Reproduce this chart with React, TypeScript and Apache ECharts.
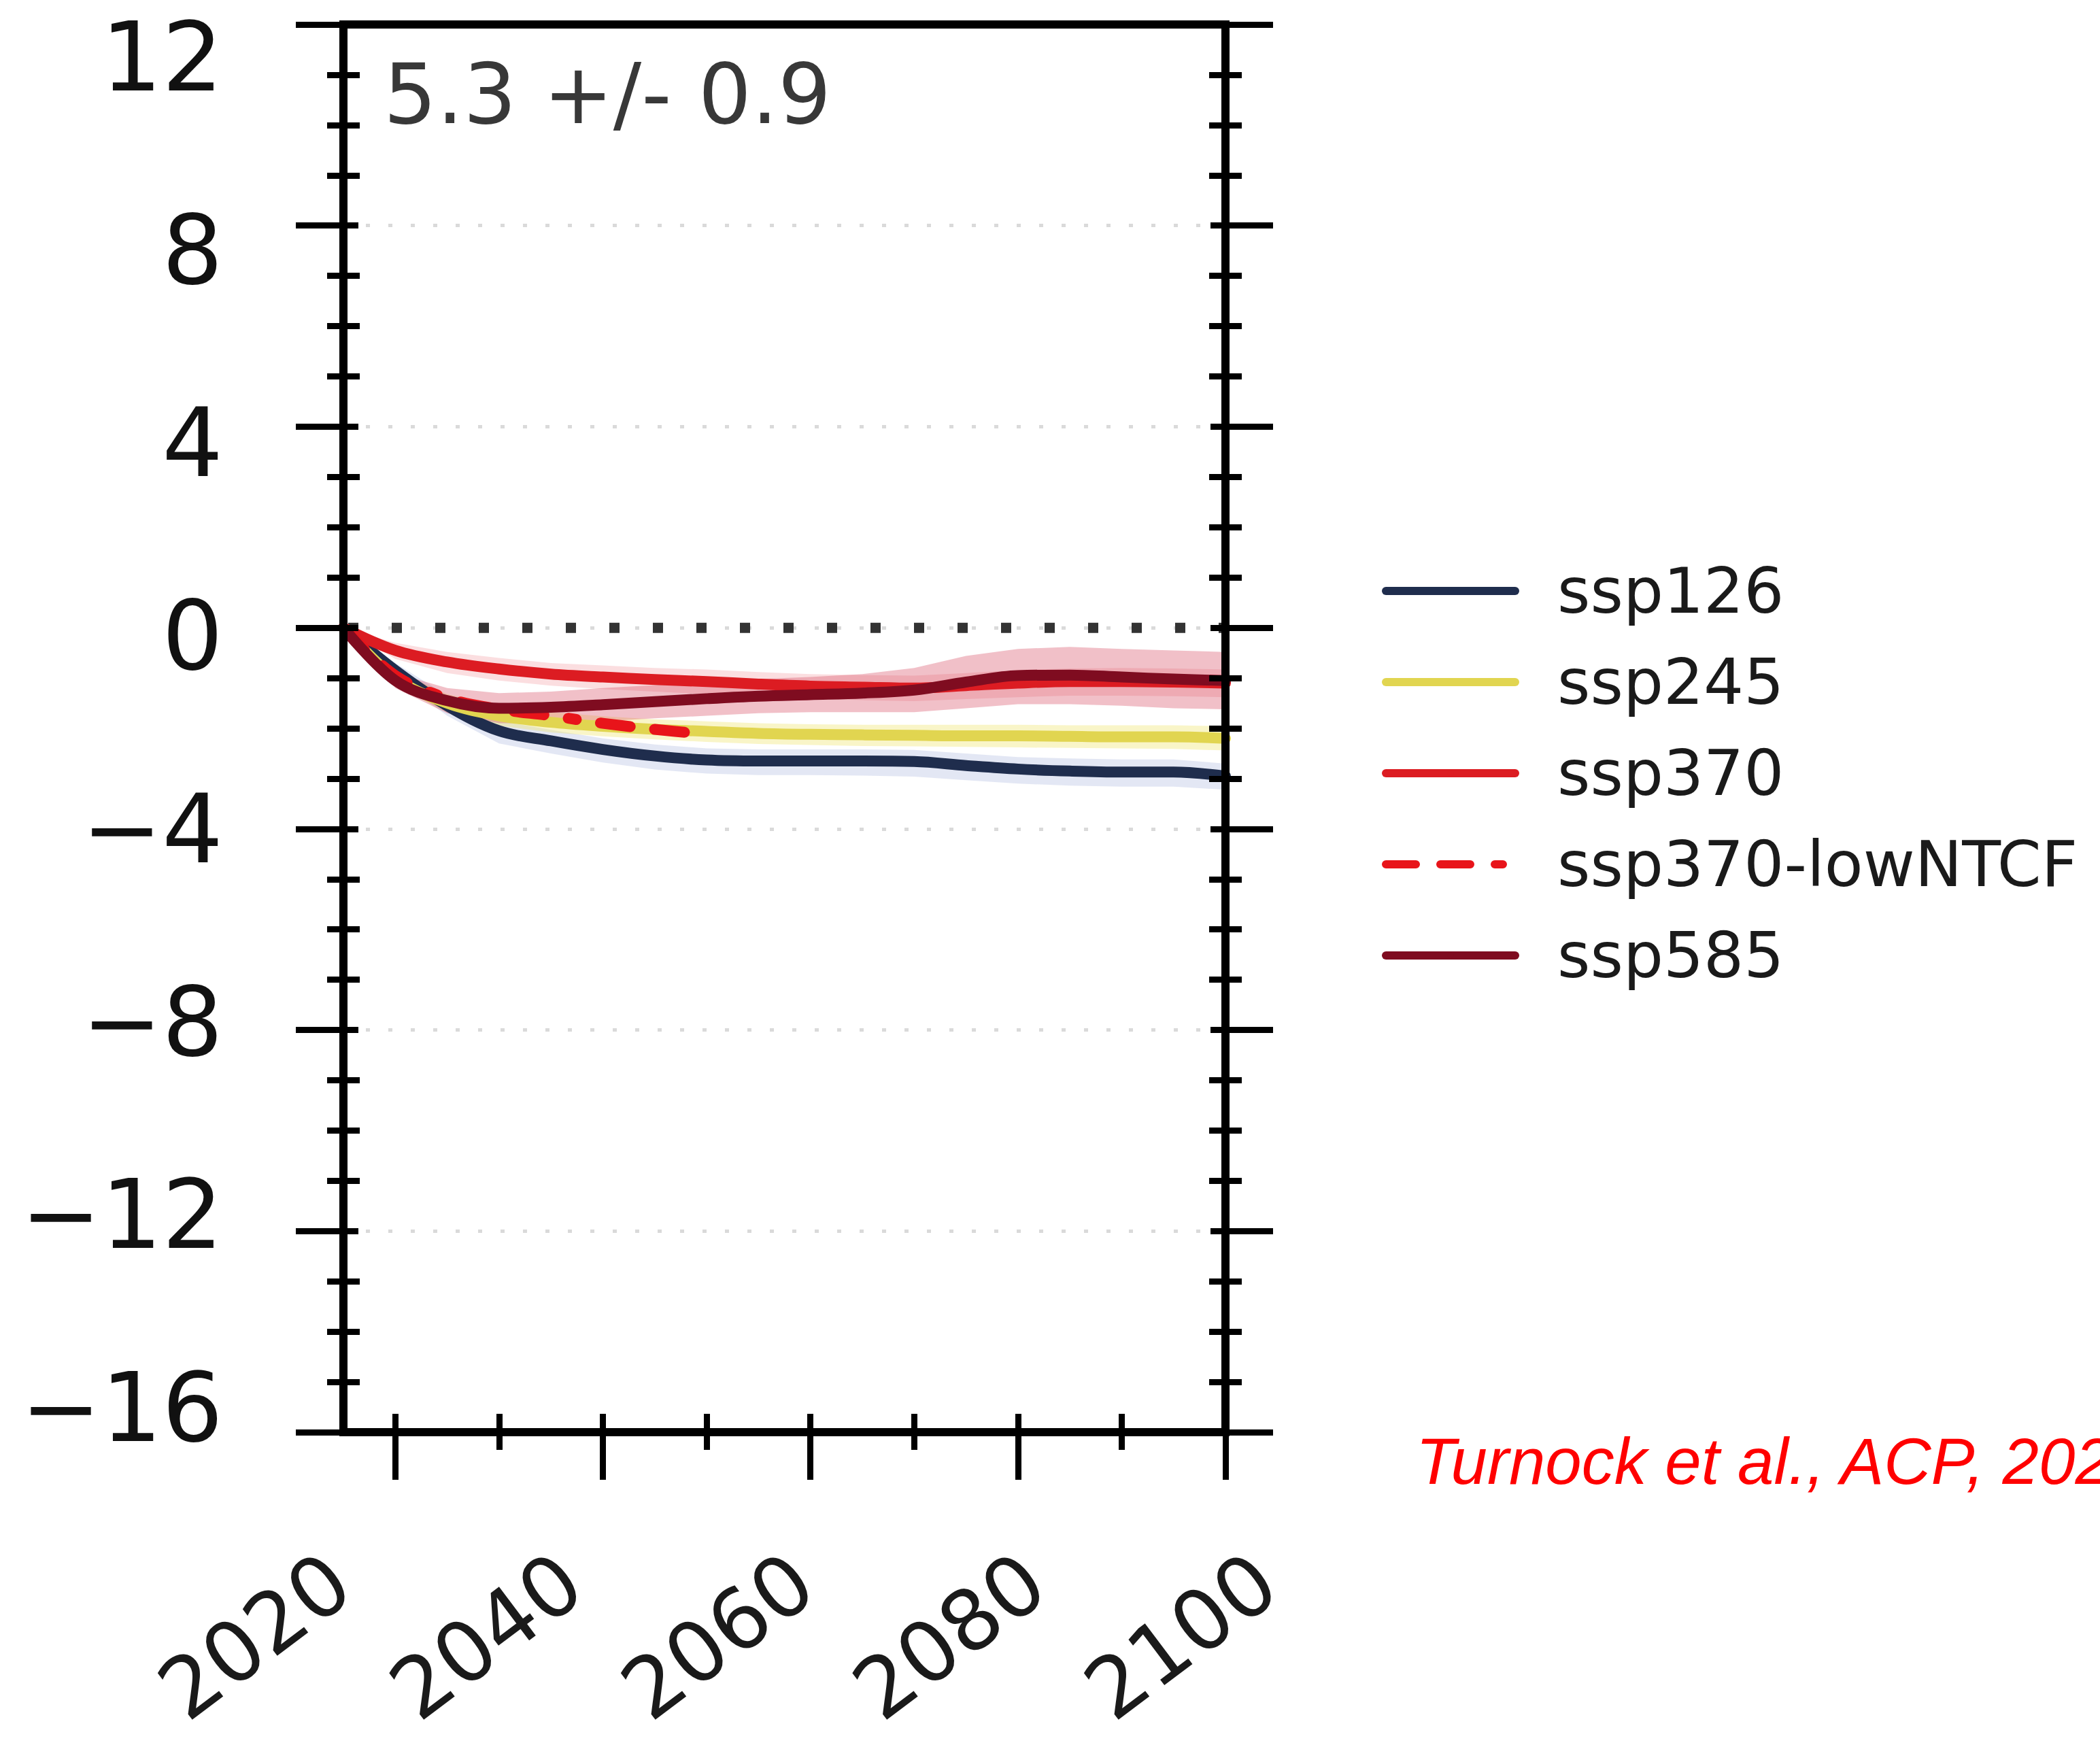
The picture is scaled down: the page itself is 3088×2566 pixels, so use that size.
import React, { useEffect, useRef } from "react";
import * as echarts from "echarts";

// ---------- data ----------
const years = [2015, 2020, 2025, 2030, 2035, 2040, 2045, 2050, 2055, 2060, 2065, 2070, 2075, 2080, 2085, 2090, 2095, 2100];
const lowNTCFYears = [2015, 2020, 2025, 2030, 2035, 2040, 2045, 2050];

const ssp126 = [0, -0.85, -1.55, -2.05, -2.25, -2.42, -2.55, -2.63, -2.65, -2.65, -2.65, -2.66, -2.74, -2.81, -2.85, -2.87, -2.87, -2.95];
const ssp126Lo = [0, -1.0, -1.75, -2.3, -2.5, -2.68, -2.82, -2.9, -2.93, -2.93, -2.94, -2.96, -3.03, -3.1, -3.14, -3.16, -3.16, -3.22];
const ssp126Hi = [0, -0.7, -1.35, -1.85, -2.03, -2.2, -2.32, -2.4, -2.42, -2.42, -2.42, -2.43, -2.5, -2.57, -2.6, -2.62, -2.62, -2.7];

const ssp245 = [0, -1.0, -1.5, -1.75, -1.88, -1.96, -2.02, -2.06, -2.1, -2.12, -2.13, -2.14, -2.15, -2.15, -2.16, -2.17, -2.17, -2.2];
const ssp245Lo = [0, -1.15, -1.68, -1.95, -2.08, -2.16, -2.22, -2.27, -2.31, -2.33, -2.35, -2.36, -2.37, -2.38, -2.39, -2.4, -2.41, -2.44];
const ssp245Hi = [0, -0.85, -1.32, -1.56, -1.68, -1.76, -1.82, -1.86, -1.9, -1.92, -1.93, -1.93, -1.93, -1.93, -1.94, -1.94, -1.94, -1.96];

const ssp370 = [0, -0.45, -0.68, -0.82, -0.92, -0.98, -1.03, -1.07, -1.12, -1.16, -1.18, -1.2, -1.15, -1.1, -1.07, -1.07, -1.08, -1.1];
const ssp370Lo = [0, -0.62, -0.9, -1.05, -1.15, -1.22, -1.27, -1.32, -1.37, -1.41, -1.44, -1.46, -1.42, -1.38, -1.35, -1.35, -1.36, -1.38];
const ssp370Hi = [0, -0.3, -0.48, -0.6, -0.7, -0.75, -0.8, -0.83, -0.88, -0.92, -0.94, -0.95, -0.9, -0.84, -0.81, -0.8, -0.81, -0.83];

const ssp370lowNTCF = [0, -0.95, -1.4, -1.62, -1.75, -1.9, -2.02, -2.12];

const ssp585 = [0, -1.05, -1.45, -1.6, -1.58, -1.53, -1.47, -1.41, -1.36, -1.33, -1.3, -1.24, -1.08, -0.95, -0.94, -0.98, -1.02, -1.05];
const ssp585Lo = [0, -1.2, -1.7, -1.9, -1.9, -1.86, -1.8, -1.75, -1.7, -1.68, -1.68, -1.68, -1.6, -1.52, -1.52, -1.55, -1.6, -1.62];
const ssp585Hi = [0, -0.9, -1.2, -1.3, -1.27, -1.2, -1.14, -1.07, -1.02, -0.98, -0.92, -0.8, -0.56, -0.42, -0.38, -0.42, -0.45, -0.48];

const zeroLine = [[2015, 0], [2100, 0]];

const seriesNames = ["ssp126", "ssp245", "ssp370", "ssp370-lowNTCF", "ssp585"];
const xMajorTicks = [2020, 2040, 2060, 2080, 2100];
const xMinorTicks = [2030, 2050, 2070, 2090];
const statText = "5.3 +/- 0.9";
const citationText = "Turnock et al., ACP, 2020";

// ---------- styles ----------
const C126 = "#1f2d4d";
const C245 = "#e1d550";
const C370 = "#dc1c22";
const CLOW = "#e8141a";
const C585 = "#7f0c20";
const FONT = "DejaVu Sans";
const LINE_W = 16;

const pairs = (xs: number[], ys: number[]) => xs.map((x, i) => [x, ys[i]]);

function bandSeries(id: string, xs: number[], lo: number[], hi: number[], color: string) {
  return {
    type: "custom",
    name: id,
    xAxisIndex: 0,
    yAxisIndex: 0,
    silent: true,
    clip: true,
    z: 2,
    data: [[xs[0], lo[0]]],
    renderItem: (_params: any, api: any) => {
      const upper = xs.map((x, i) => api.coord([x, hi[i]]));
      const lower = xs.map((x, i) => api.coord([x, lo[i]])).reverse();
      return {
        type: "polygon",
        shape: { points: upper.concat(lower) },
        style: { fill: color, stroke: null },
      };
    },
  };
}

function lineSeries(name: string, xs: number[], ys: number[], color: string, z: number, type: any = "solid") {
  return {
    type: "line",
    name,
    xAxisIndex: 0,
    yAxisIndex: 0,
    data: pairs(xs, ys),
    symbol: "none",
    smooth: 0.35,
    z,
    itemStyle: { color },
    lineStyle: { color, width: LINE_W, cap: "round", join: "round", type },
  };
}

const yMain = { type: "value", min: -16, max: 12, interval: 4, gridIndex: 0 };
const xMain = { type: "value", min: 2015, max: 2100, gridIndex: 0 };
const black = "#000";

export default function App() {
  const ref = useRef<HTMLDivElement>(null);

  useEffect(() => {
    if (!ref.current) return;
    const chart = echarts.init(ref.current, null, { renderer: "svg" });

    const option: any = {
      animation: false,
      backgroundColor: "#ffffff",
      textStyle: { fontFamily: FONT },
      grid: [
        { left: 505, top: 36, width: 1297, height: 2070, containLabel: false, outerBoundsMode: "none" },
        { left: 500, top: 84, width: 1362, height: 1986, containLabel: false, outerBoundsMode: "none" },
      ],
      xAxis: [
        {
          ...xMain, position: "bottom", z: 6,
          axisLine: { show: true, onZero: false, lineStyle: { color: black, width: 12, cap: "square" } },
          axisTick: { show: true, inside: false, length: 70, customValues: xMajorTicks, lineStyle: { color: black, width: 9 } },
          axisLabel: { show: false }, splitLine: { show: false },
        },
        {
          ...xMain, position: "bottom", z: 6,
          axisLine: { show: false, onZero: false },
          axisTick: { show: true, inside: false, length: 26, customValues: xMinorTicks, lineStyle: { color: black, width: 9 } },
          axisLabel: { show: false }, splitLine: { show: false },
        },
        {
          ...xMain, position: "bottom", z: 6,
          axisLine: { show: false, onZero: false },
          axisTick: { show: true, inside: true, length: 27, customValues: [...xMajorTicks, ...xMinorTicks], lineStyle: { color: black, width: 9 } },
          axisLabel: { show: false }, splitLine: { show: false },
        },
        {
          ...xMain, position: "top", z: 6,
          axisLine: { show: true, onZero: false, lineStyle: { color: black, width: 12, cap: "square" } },
          axisTick: { show: false }, axisLabel: { show: false }, splitLine: { show: false },
        },
        {
          type: "value", gridIndex: 1, min: 2020, max: 2100, interval: 20, position: "bottom",
          axisLine: { show: false, onZero: false }, axisTick: { show: false }, splitLine: { show: false },
          axisLabel: {
            show: true, rotate: 37, margin: 242, fontSize: 123, lineHeight: 100, fontFamily: FONT, color: "#1a1a1a",
            formatter: (v: number) => String(v),
          },
        },
      ],
      yAxis: [
        {
          ...yMain, position: "left", z: 6,
          axisLine: { show: true, onZero: false, lineStyle: { color: black, width: 12, cap: "square" } },
          axisTick: { show: true, inside: false, length: 70, lineStyle: { color: black, width: 9 } },
          minorTick: { show: true, splitNumber: 4, length: 24, lineStyle: { color: black, width: 9 } },
          axisLabel: { show: false }, splitLine: { show: false },
        },
        {
          ...yMain, position: "left", z: 6,
          axisLine: { show: false, onZero: false },
          axisTick: { show: true, inside: true, length: 22, lineStyle: { color: black, width: 9 } },
          minorTick: { show: true, splitNumber: 4, length: 24, lineStyle: { color: black, width: 9 } },
          axisLabel: { show: false }, splitLine: { show: false },
        },
        {
          ...yMain, position: "right", z: 6,
          axisLine: { show: true, onZero: false, lineStyle: { color: black, width: 12, cap: "square" } },
          axisTick: { show: true, inside: false, length: 70, lineStyle: { color: black, width: 9 } },
          minorTick: { show: true, splitNumber: 4, length: 24, lineStyle: { color: black, width: 9 } },
          axisLabel: { show: false }, splitLine: { show: false },
        },
        {
          ...yMain, position: "right", z: 6,
          axisLine: { show: false, onZero: false },
          axisTick: { show: true, inside: true, length: 22, lineStyle: { color: black, width: 9 } },
          minorTick: { show: true, splitNumber: 4, length: 24, lineStyle: { color: black, width: 9 } },
          axisLabel: { show: false }, splitLine: { show: false },
        },
        {
          type: "value", gridIndex: 1, min: -16, max: 12, interval: 4, position: "left",
          axisLine: { show: false, onZero: false }, axisTick: { show: false }, splitLine: { show: false },
          axisLabel: {
            show: true, margin: 172, fontSize: 141, lineHeight: 130, fontFamily: FONT, color: "#111111",
            formatter: (v: number) => (v < 0 ? "\u2212" + Math.abs(v) : String(v)),
          },
        },
        {
          ...yMain, position: "left", z: 0,
          axisLine: { show: false, onZero: false }, axisTick: { show: false }, axisLabel: { show: false },
          splitLine: { show: true, lineStyle: { color: "#dadada", width: 5, type: [6, 27] } },
        },
      ],
      legend: {
        data: seriesNames,
        orient: "vertical",
        left: 2032,
        top: 819,
        padding: 0,
        itemWidth: 190,
        itemHeight: 11,
        itemGap: 34,
        selectedMode: false,
        textStyle: { fontFamily: FONT, fontSize: 93, color: "#1a1a1a", lineHeight: 100, padding: [0, 0, 0, 57] },
        lineStyle: { width: 12, cap: "round" },
      },
      graphic: [
        {
          type: "text", x: 564, y: 138, z: 10,
          style: { text: statText, font: `123px "${FONT}"`, fill: "#383838", textVerticalAlign: "middle", verticalAlign: "middle", align: "left" },
        },
        {
          type: "text", x: 2082, y: 2148, z: 10,
          style: { text: citationText, font: `italic 96px "Liberation Sans"`, fill: "#ff0000", textVerticalAlign: "middle", verticalAlign: "middle", align: "left" },
        },
      ],
      series: [
        bandSeries("band126", years, ssp126Lo, ssp126Hi, "rgba(90,110,190,0.17)"),
        bandSeries("band245", years, ssp245Lo, ssp245Hi, "rgba(240,228,110,0.38)"),
        bandSeries("band370", years, ssp370Lo, ssp370Hi, "rgba(235,90,100,0.2)"),
        bandSeries("band585", years, ssp585Lo, ssp585Hi, "rgba(215,70,95,0.34)"),
        {
          type: "line", name: "zero", xAxisIndex: 0, yAxisIndex: 0, data: zeroLine, symbol: "none", silent: true, z: 2,
          lineStyle: { color: "#333333", width: 15, type: [15, 49], dashOffset: 57, cap: "butt" },
        },
        lineSeries("ssp126", years, ssp126, C126, 3),
        lineSeries("ssp245", years, ssp245, C245, 3),
        lineSeries("ssp370", years, ssp370, C370, 3),
        lineSeries("ssp370-lowNTCF", lowNTCFYears, ssp370lowNTCF, CLOW, 4, [44, 36, 44, 36, 12, 36]),
        lineSeries("ssp585", years, ssp585, C585, 5),
      ],
    };

    chart.setOption(option);
    return () => chart.dispose();
  }, []);

  return (
    <div
      ref={ref}
      style={{ position: "fixed", left: 0, top: 0, width: 3088, height: 2566, background: "#fff" }}
    />
  );
}
